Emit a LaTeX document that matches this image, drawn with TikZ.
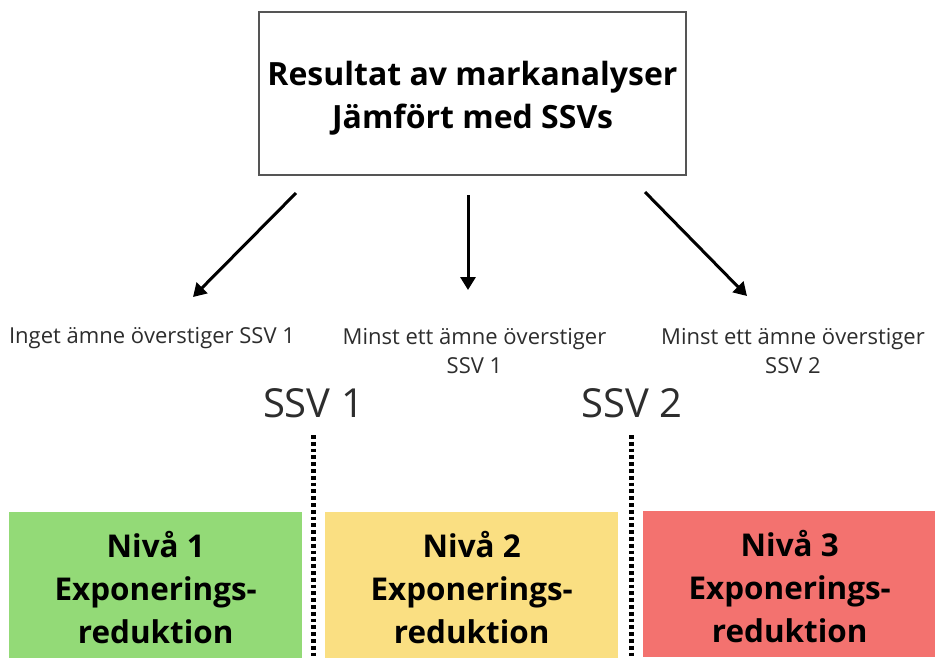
\documentclass[tikz,border=0pt]{standalone}
\usepackage{fontspec}
\setmainfont{Open Sans}
\usetikzlibrary{arrows.meta}
\definecolor{lvlgreen}{RGB}{147,218,119}
\definecolor{lvlyellow}{RGB}{250,223,130}
\definecolor{lvlred}{RGB}{243,114,111}
\definecolor{boxgray}{RGB}{85,85,85}
\definecolor{labelgray}{RGB}{45,45,45}
\tikzset{
  topbox/.style={draw=boxgray, line width=1.3pt, minimum width=427pt, minimum height=163pt, inner sep=0pt},
  toptextstyle/.style={align=center, inner sep=0pt, font=\bfseries\fontsize{32}{43}\selectfont},
  levelbox/.style={minimum width=293pt, minimum height=146pt, inner sep=0pt, anchor=north west},
  leveltext/.style={align=center, inner sep=0pt, font=\bfseries\fontsize{31.4}{43}\selectfont},
  cond/.style={align=center, inner sep=0pt, text=labelgray, font=\fontsize{22}{29.5}\selectfont},
  ssv/.style={inner sep=0pt, anchor=base, text=labelgray, font=\fontsize{40}{48}\selectfont},
  arr/.style={line width=3pt, -{Triangle[length=13pt,width=15pt]}},
  sep/.style={line width=4.5pt, dash pattern=on 3.8pt off 3pt}
}
\begin{document}
\begin{tikzpicture}[x=1pt,y=-1pt]
\useasboundingbox (0,0) rectangle (935,657);
\fill[white] (0,0) rectangle (935,657);
% top box
\node[topbox] (top) at (472.5,93.5) {};
\node[toptextstyle] (toptext) at ([yshift=-5pt]top.center) {Resultat av markanalyser\\Jämfört med SSVs};
% conditions
\node[cond, anchor=base] (c1) at (152,343) {Inget ämne överstiger SSV 1};
\node[cond] (c2) at (474.5,351) {Minst ett ämne överstiger\\SSV 1};
\node[cond] (c3) at (793,351) {Minst ett ämne överstiger\\SSV 2};
% arrows
\coordinate (a1s) at (296,193);
\coordinate (a1e) at (193,297);
\coordinate (a2s) at (468,195);
\coordinate (a2e) at (468,290);
\coordinate (a3s) at (645,192);
\coordinate (a3e) at (747,296);
\draw[arr] (a1s) -- (a1e);
\draw[arr] (a2s) -- (a2e);
\draw[arr] (a3s) -- (a3e);
% thresholds
\node[ssv] (s1) at (313.5,417) {SSV 1};
\node[ssv] (s2) at (632,417) {SSV 2};
\coordinate (d1s) at (313.5,435);
\coordinate (d1e) at (313.5,657);
\coordinate (d2s) at (631.5,435);
\coordinate (d2e) at (631.5,657);
\draw[sep] (d1s) -- (d1e);
\draw[sep] (d2s) -- (d2e);
% level boxes
\node[levelbox, fill=lvlgreen] (b1) at (9,512) {};
\node[levelbox, fill=lvlyellow] (b2) at (325,512) {};
\node[levelbox, fill=lvlred] (b3) at (643,511) {};
\node[leveltext] (t1) at ([yshift=-2pt]b1.center) {Nivå 1\\Exponerings-\\reduktion};
\node[leveltext] (t2) at ([yshift=-2pt]b2.center) {Nivå 2\\Exponerings-\\reduktion};
\node[leveltext] (t3) at ([yshift=-2pt]b3.center) {Nivå 3\\Exponerings-\\reduktion};
\end{tikzpicture}
\end{document}
